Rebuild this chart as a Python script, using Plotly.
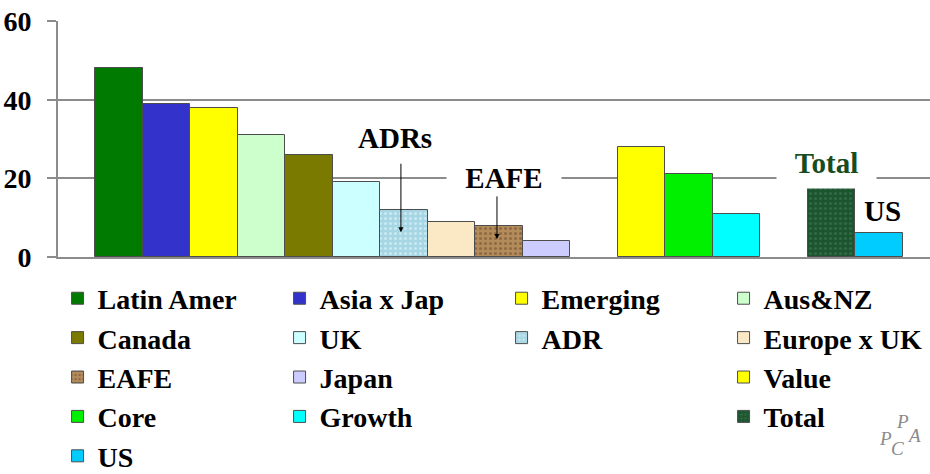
import plotly.graph_objects as go

# Series, in chart order (blank entries are spacer slots between the groups)
series = ["Latin Amer", "Asia x Jap", "Emerging", "Aus&NZ",
          "Canada", "UK", "ADR", "Europe x UK",
          "EAFE", "Japan", " ", "Value",
          "Core", "Growth", "  ", "Total",
          "US"]
values = [48, 39, 38, 31,
          26, 19, 12, 9,
          8, 4, 0, 28,
          21, 11, 0, 18,
          6]
colors = ["#017a01", "#3333cc", "#ffff00", "#ccffcc",
          "#7a7a00", "#ccffff", "#a6d6e4", "#fbe9c6",
          "#b48c5c", "#ccccff", "rgba(0,0,0,0)", "#ffff00",
          "#00f000", "#00ffff", "rgba(0,0,0,0)", "#1d5430",
          "#00ccff"]
# textured fills: series -> (dot colour, dot size, solidity)
textures = {
    "ADR": ("#c9e9f2", 5, 0.3),
    "EAFE": ("#8e6a42", 5, 0.3),
    "Total": ("#2f6a42", 5, 0.3),
}
y_ticks = [0, 20, 40, 60]

FONT = "Liberation Serif, Times New Roman, serif"

fig = go.Figure()
for name, val, col in zip(series, values, colors):
    blank = name.strip() == ""
    marker = dict(color=col,
                  line=dict(color="rgba(0,0,0,0)" if blank else "#4d4d4d",
                            width=0 if blank else 1))
    if name in textures:
        fg, sz, sol = textures[name]
        marker["pattern"] = dict(shape=".", bgcolor=col, fgcolor=fg,
                                 size=sz, solidity=sol, fillmode="replace")
    fig.add_trace(go.Bar(x=[name], y=[val], name=name, marker=marker,
                         hoverinfo="skip" if blank else None))

fig.update_layout(
    width=930, height=474,
    margin=dict(l=58, r=0, t=21, b=217, autoexpand=False),
    paper_bgcolor="white", plot_bgcolor="white",
    barmode="overlay", bargap=0,
    font=dict(family=FONT, size=28, color="black", weight="bold"),
    showlegend=True,
    # anchored just left of the plot area so each legend row holds four entries
    legend=dict(orientation="h", x=-0.0005, xanchor="left", y=-0.07, yanchor="top",
                entrywidth=177, entrywidthmode="pixels",
                font=dict(family=FONT, size=28, color="black", weight="bold"),
                bgcolor="rgba(0,0,0,0)", traceorder="normal"),
)

fig.update_xaxes(type="category", categoryorder="array", categoryarray=series,
                 range=[-1.278, 17.069], showticklabels=False, ticks="",
                 showgrid=False, zeroline=False,
                 showline=True, linecolor="#8c8c8c", linewidth=2)
fig.update_yaxes(range=[0, 60.05], tickvals=y_ticks, ticktext=[str(v) for v in y_ticks],
                 showgrid=True, gridcolor="#8c8c8c", gridwidth=2,
                 zeroline=False, showline=True, linecolor="#8c8c8c", linewidth=2,
                 ticks="outside", ticklen=9, tickwidth=2, tickcolor="#8c8c8c",
                 ticklabelstandoff=10,
                 tickfont=dict(family=FONT, size=28, color="black", weight="bold"))

# callout labels
lab = dict(family=FONT, size=29, color="black", weight="bold")
fig.add_annotation(x="ADR", y=30.3, text="ADRs", showarrow=False, xshift=-9, font=lab)
fig.add_annotation(x="EAFE", y=20, text="EAFE", showarrow=False, xshift=5,
                   font=lab, bgcolor="white", width=112, height=30)
fig.add_annotation(x="Total", y=22.9, text="Total", showarrow=False, xshift=-5,
                   font=dict(family=FONT, size=29, color="#174d1e", weight="bold"),
                   bgcolor="white", width=97, height=40, valign="top")
fig.add_annotation(x="US", y=11.6, text="US", showarrow=False, xshift=3, font=lab)

# pointer arrows into the ADR and EAFE bars
arrow = dict(showarrow=True, arrowhead=2, arrowsize=1, arrowwidth=1,
             arrowcolor="black", text="", ax=0, axref="pixel", ayref="pixel")
fig.add_annotation(x="ADR", y=6.3, ay=-70, xshift=-3, **arrow)
fig.add_annotation(x="EAFE", y=4.6, ay=-44, xshift=-2, **arrow)

# corner logo
logo = dict(family=FONT, size=19, color="#8a8a8a", style="italic", weight="normal")
for txt, px, py in [("P", 893, 449), ("P", 910, 432), ("C", 905, 459), ("A", 922, 446)]:
    fig.add_annotation(xref="paper", yref="paper", x=(px - 58) / 872,
                       y=(256.5 - py) / 235.5, text=txt, showarrow=False, font=logo,
                       borderpad=0)

fig.write_html("out.html")
